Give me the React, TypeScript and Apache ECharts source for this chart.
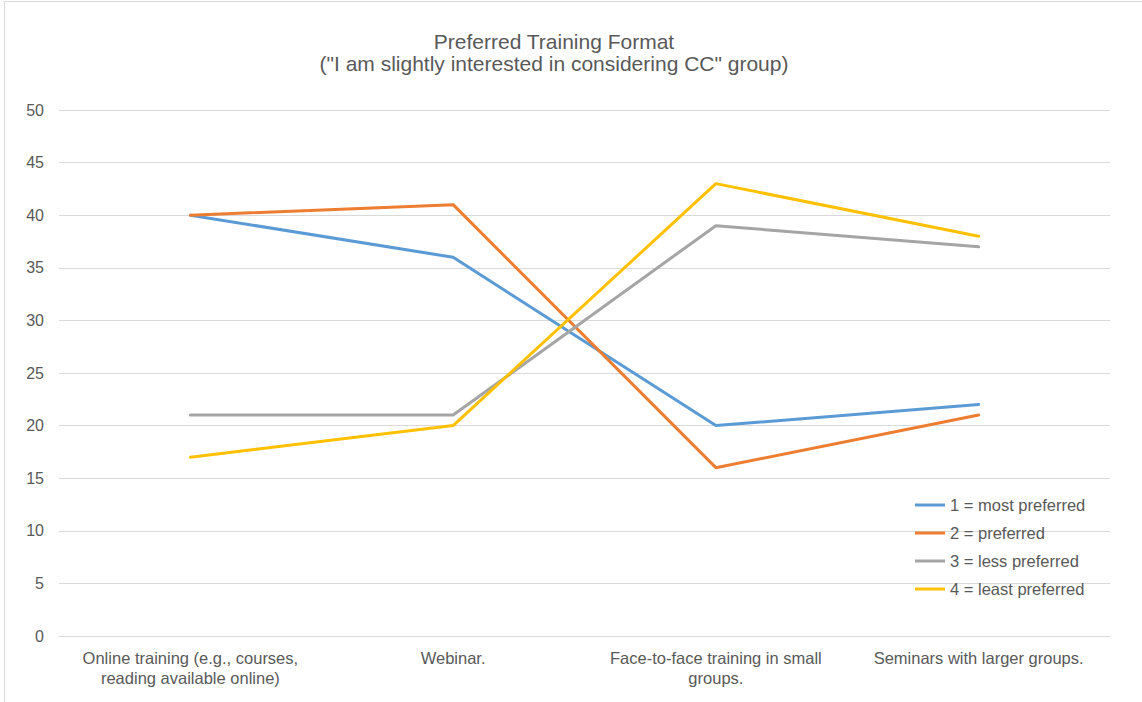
import React, { useEffect, useRef } from "react";
import * as echarts from "echarts";

const categories = [
  "Online training (e.g., courses,\nreading available online)",
  "Webinar.",
  "Face-to-face training in small\ngroups.",
  "Seminars with larger groups.",
];
const seriesNames = ["1 = most preferred", "2 = preferred", "3 = less preferred", "4 = least preferred"];
const mostPreferred = [40, 36, 20, 22];
const preferred = [40, 41, 16, 21];
const lessPreferred = [21, 21, 39, 37];
const leastPreferred = [17, 20, 43, 38];
const colors = ["#5B9BD5", "#ED7D31", "#A5A5A5", "#FFC000"];
const titleText = "Preferred Training Format\n(\"I am slightly interested in considering CC\" group)";

const FONT = "'Liberation Sans', Arial, sans-serif";

export default function App() {
  const ref = useRef<HTMLDivElement>(null);
  useEffect(() => {
    if (!ref.current) return;
    const chart = echarts.init(ref.current, undefined, { renderer: "svg" });
    const values = [mostPreferred, preferred, lessPreferred, leastPreferred];
    chart.setOption({
      animation: false,
      backgroundColor: "#ffffff",
      textStyle: { fontFamily: FONT },
      title: {
        text: titleText,
        left: 549,
        top: 25,
        textAlign: "center",
        textStyle: { fontFamily: FONT, fontSize: 21, fontWeight: "normal", color: "#595959", lineHeight: 22 },
      },
      graphic: [
        {
          type: "rect",
          shape: { x: 4.5, y: 1.5, width: 1200, height: 800 },
          style: { fill: "none", stroke: "#D9D9D9", lineWidth: 1 },
          silent: true,
        },
      ],
      legend: {
        orient: "vertical",
        left: 910,
        top: 491,
        icon: "rect",
        itemWidth: 30,
        itemHeight: 3,
        itemGap: 10,
        textStyle: { fontFamily: FONT, fontSize: 16.5, color: "#595959", lineHeight: 18 },
        data: seriesNames,
      },
      grid: { left: 59, right: 32, top: 110, bottom: 66, containLabel: false },
      xAxis: {
        type: "category",
        data: categories,
        boundaryGap: true,
        axisLine: { lineStyle: { color: "#D9D9D9", width: 1 } },
        axisTick: { show: false },
        axisLabel: { interval: 0, margin: 12, fontFamily: FONT, fontSize: 16.5, color: "#595959", lineHeight: 20 },
      },
      yAxis: {
        type: "value",
        min: 0,
        max: 50,
        interval: 5,
        axisLine: { show: false },
        axisTick: { show: false },
        axisLabel: { margin: 15, fontFamily: FONT, fontSize: 16, color: "#595959" },
        splitLine: { lineStyle: { color: "#D9D9D9", width: 1 } },
      },
      series: seriesNames.map((name, i) => ({
        name,
        type: "line",
        data: values[i],
        symbol: "none",
        showSymbol: false,
        color: colors[i],
        lineStyle: { color: colors[i], width: 3, cap: "round", join: "round" },
        itemStyle: { color: colors[i] },
      })),
    });
    return () => chart.dispose();
  }, []);
  return (
    <div
      ref={ref}
      style={{ position: "absolute", left: 0, top: 0, width: 1142, height: 702 }}
    />
  );
}
